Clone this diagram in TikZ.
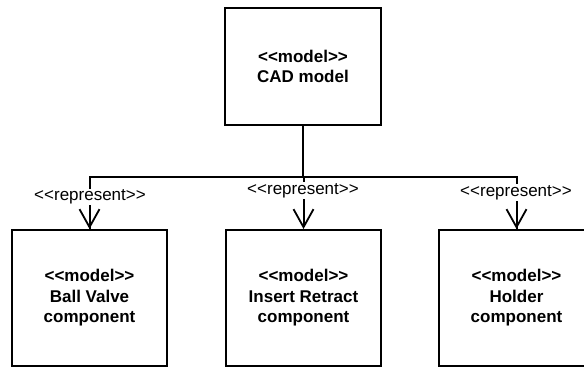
\documentclass[tikz,border=0pt]{standalone}
\usepackage{fontspec}
\setmainfont{Liberation Sans}
\usetikzlibrary{arrows.meta}
\newcommand\lsym{<\kern0pt<}
\newcommand\rsym{>\kern0pt>}
\begin{document}
\begin{tikzpicture}[x=1pt,y=-1pt,
  box/.style={draw=black,line width=2pt,fill=white,align=center,inner sep=0pt,
    font=\bfseries\fontsize{17}{20.5}\selectfont},
  topbox/.style={box,minimum width=156pt,minimum height=117pt},
  compbox/.style={box,minimum width=155pt,minimum height=136pt},
  conn/.style={draw=black,line width=2pt},
  rel/.style={conn,-{Straight Barb[length=18pt,width=20pt,line width=1.8pt]}},
  lbl/.style={fill=white,inner sep=1pt,font=\fontsize{17}{20.5}\selectfont}]
\useasboundingbox (0,0) rectangle (584,367);
\clip (0,0) rectangle (584,367);
\node[topbox] (cad) at (303,66.5) {\lsym model\rsym\\CAD model};
\node[compbox] (ball) at (89.5,298) {\lsym model\rsym\\Ball Valve\\component};
\node[compbox] (ins) at (303.5,298) {\lsym model\rsym\\Insert Retract\\component};
\node[compbox] (hold) at (516.5,298) {\lsym model\rsym\\Holder\\component};
\coordinate (j) at (303,177);
\draw[conn] (cad.south) -- (j);
\draw[conn] (j) -| (ball.north);
\draw[conn] (j) -| (hold.north);
\draw[rel] (j -| ball.north) -- (ball.north);
\draw[rel] (j -| ins.north) -- (ins.north);
\draw[rel] (j -| hold.north) -- (hold.north);
\node[lbl] (l1) at (90,197) {\lsym represent\rsym};
\node[lbl] (l2) at (303,190.7) {\lsym represent\rsym};
\node[lbl] (l3) at (516,192.7) {\lsym represent\rsym};
\end{tikzpicture}
\end{document}
